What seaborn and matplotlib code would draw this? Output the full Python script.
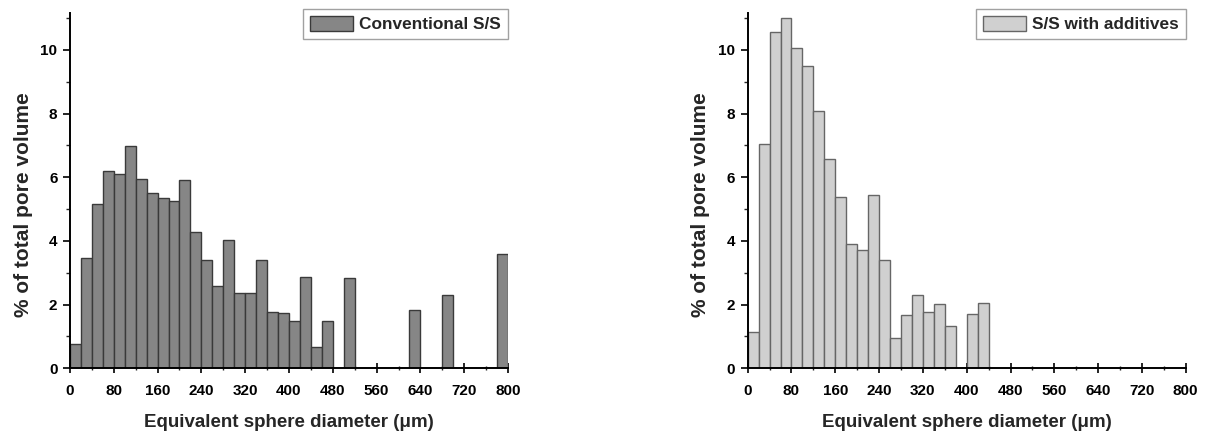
import numpy as np
import pandas as pd
import matplotlib
matplotlib.use("Agg")
import matplotlib.pyplot as plt
from matplotlib.ticker import MultipleLocator
import seaborn as sns

# ---- data (bin centres in µm, % of total pore volume) ----
conv_diameter = [10, 30, 50, 70, 90, 110, 130, 150, 170, 190, 210, 230, 250, 270,
                 290, 310, 330, 350, 370, 390, 410, 430, 450, 470, 510, 630, 690, 790]
conv_volume = [0.75, 3.47, 5.15, 6.19, 6.10, 6.98, 5.95, 5.52, 5.34, 5.24, 5.90, 4.28,
               3.40, 2.58, 4.04, 2.38, 2.38, 3.40, 1.78, 1.75, 1.48, 2.88, 0.67, 1.47,
               2.84, 1.82, 2.31, 3.60]

add_diameter = [10, 30, 50, 70, 90, 110, 130, 150, 170, 190, 210, 230, 250, 270,
                290, 310, 330, 350, 370, 410, 430]
add_volume = [1.15, 7.03, 10.57, 11.00, 10.07, 9.49, 8.09, 6.56, 5.38, 3.89, 3.71, 5.45,
              3.39, 0.94, 1.66, 2.29, 1.77, 2.03, 1.33, 1.71, 2.06]

series_labels = ["Conventional S/S", "S/S with additives"]
x_label = "Equivalent sphere diameter (\u03bcm)"
y_label = "% of total pore volume"
x_ticks = [0, 80, 160, 240, 320, 400, 480, 560, 640, 720, 800]
y_ticks = [0, 2, 4, 6, 8, 10]

BIN_WIDTH = 20
X_MAX = 800

sns.set_style("ticks")
plt.rcParams["font.family"] = ["Liberation Sans", "DejaVu Sans"]
plt.rcParams["font.weight"] = "bold"

fig = plt.figure(figsize=(12.13, 4.37), dpi=100)
ax_left = fig.add_axes([0.0577, 0.1572, 0.3611, 0.8124])
ax_right = fig.add_axes([0.6164, 0.1572, 0.3611, 0.8124])

edges = [float(e) for e in np.arange(0, X_MAX + BIN_WIDTH, BIN_WIDTH)]

panels = [
    (ax_left, conv_diameter, conv_volume, series_labels[0], "#868686", "#3a3a3a"),
    (ax_right, add_diameter, add_volume, series_labels[1], "#d0d0d0", "#666666"),
]

for ax, xs, ws, lab, fc, ec in panels:
    df = pd.DataFrame({"diameter": xs, "volume": ws})
    sns.histplot(data=df, x="diameter", weights="volume", bins=edges, ax=ax,
                 color=fc, edgecolor=ec, linewidth=1.0, alpha=1.0, shrink=1.0)
    ax.set_xlim(0, X_MAX)
    ax.set_ylim(0, 11.15)
    ax.set_xticks(x_ticks)
    ax.set_yticks(y_ticks)
    ax.xaxis.set_minor_locator(MultipleLocator(40))
    ax.yaxis.set_minor_locator(MultipleLocator(1))
    for s in ["top", "right"]:
        ax.spines[s].set_visible(False)
    for s in ["left", "bottom"]:
        ax.spines[s].set_linewidth(1.4)
        ax.spines[s].set_color("black")
    ax.tick_params(axis="x", which="major", direction="inout", length=6.5, width=1.2,
                   pad=8, labelsize=11, colors="black")
    ax.tick_params(axis="x", which="minor", direction="inout", length=3.5, width=1.0)
    ax.tick_params(axis="y", which="major", direction="out", length=5, width=1.2,
                   pad=4, labelsize=11, colors="black")
    ax.tick_params(axis="y", which="minor", direction="out", length=2.8, width=1.0)
    for t in ax.get_xticklabels() + ax.get_yticklabels():
        t.set_fontweight("bold")
    ax.set_xlabel(x_label, fontsize=13.5, fontweight="bold")
    ax.set_ylabel(y_label, fontsize=15, fontweight="bold")
    ax.xaxis.set_label_coords(0.5, -0.128)
    ax.yaxis.set_label_coords(-0.085, 0.46)
    ax.grid(False)
    leg = ax.legend(handles=[ax.patches[0]], labels=[lab], loc="upper right",
                    bbox_to_anchor=(1.0, 1.012), borderaxespad=0, frameon=True,
                    fancybox=False, shadow=False, handlelength=2.5, handleheight=0.95,
                    handletextpad=0.35, borderpad=0.4,
                    prop={"weight": "bold", "size": 12.4})
    leg.get_frame().set_edgecolor("#8a8a8a")
    leg.get_frame().set_linewidth(1.0)

fig.savefig("out.png", dpi=100)
